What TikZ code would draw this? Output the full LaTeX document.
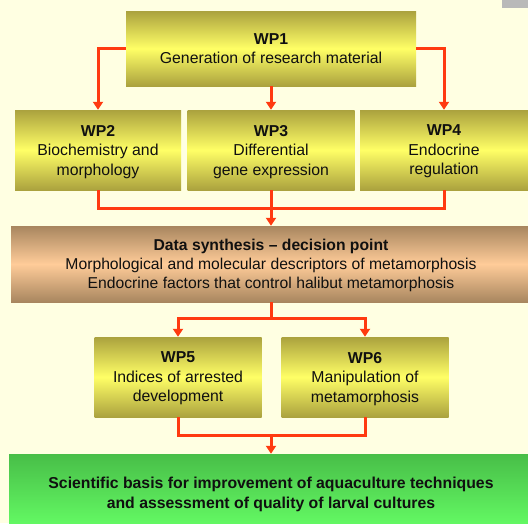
\documentclass[tikz,border=0pt]{standalone}
\usepackage{fontspec}
\setmainfont{Liberation Sans}
\usetikzlibrary{arrows.meta,calc}
\definecolor{bg}{HTML}{FFFFE2}
\definecolor{olive}{HTML}{ABA23E}
\definecolor{yel}{HTML}{FFFF66}
\definecolor{brn}{HTML}{A8865F}
\definecolor{peach}{HTML}{FFCC99}
\definecolor{dgreen}{HTML}{48BE48}
\definecolor{lgreen}{HTML}{66FF66}
\definecolor{conn}{HTML}{FF3A10}
\definecolor{txt}{HTML}{101010}
\begin{document}
\begin{tikzpicture}[x=1pt,y=-1pt,
  wpbox/.style={shade, shading=axis, top color=olive, bottom color=olive, middle color=yel,
    align=center, text=txt, inner sep=0pt, text depth=0pt, font=\fontsize{15.8}{19.5}\selectfont},
  dsbox/.style={shade, shading=axis, top color=brn, bottom color=brn, middle color=peach,
    align=center, text=txt, inner sep=0pt, text depth=0pt, font=\fontsize{15.7}{19}\selectfont},
  gbox/.style={shade, shading=axis, top color=dgreen, bottom color=lgreen,
    align=center, text=txt, inner sep=0pt, text depth=0pt, font=\fontsize{15.8}{20}\selectfont\bfseries},
  link/.style={draw=conn, line width=3pt},
  arr/.style={link, -{Triangle[length=8pt,width=10pt]}}
]
\useasboundingbox (0,0) rectangle (528,523);
\fill[bg] (0,0) rectangle (528,523);
\fill[gray!55] (502,0) rectangle (528,8);

\node[wpbox, minimum width=290, minimum height=75] (wp1) at (271,48.5)
  {\textbf{WP1}\\Generation of research material};
\node[wpbox, minimum width=166, minimum height=80] (wp2) at (98,150)
  {\textbf{WP2}\\Biochemistry and\\morphology};
\node[wpbox, minimum width=167, minimum height=80] (wp3) at (271,150)
  {\textbf{WP3}\\Differential\\gene expression};
\node[wpbox, minimum width=168, minimum height=80] (wp4) at (444,150)
  {\textbf{WP4}\\Endocrine\\regulation};
\node[dsbox, minimum width=520, minimum height=76] (ds) at (271,264)
  {\textbf{Data synthesis -- decision point}\\Morphological and molecular descriptors of metamorphosis\\Endocrine factors that control halibut metamorphosis};
\node[wpbox, minimum width=167, minimum height=80] (wp5) at (178,377)
  {\textbf{WP5}\\Indices of arrested\\development};
\node[wpbox, minimum width=167, minimum height=80] (wp6) at (365,377)
  {\textbf{WP6}\\Manipulation of\\metamorphosis};
\node[gbox, minimum width=524, minimum height=78] (goal) at (271,493)
  {Scientific basis for improvement of aquaculture techniques\\and assessment of quality of larval cultures};

\coordinate (j1) at (271,208);
\coordinate (j2) at (271,318);
\coordinate (j3) at (271,435);

\draw[arr] (wp1.west) -| (wp2.north);
\draw[arr] (wp1.east) -| (wp4.north);
\draw[arr] (wp1.south) -- (wp3.north);
\draw[link] (wp2.south) |- (j1) -| (wp4.south);
\draw[arr] (wp3.south) -- (ds.north);
\draw[link] (ds.south) -- (j2);
\draw[arr] (j2) -| (wp5.north);
\draw[arr] (j2) -| (wp6.north);
\draw[link] (wp5.south) |- (j3) -| (wp6.south);
\draw[arr] (j3) -- (goal.north);
\end{tikzpicture}
\end{document}
